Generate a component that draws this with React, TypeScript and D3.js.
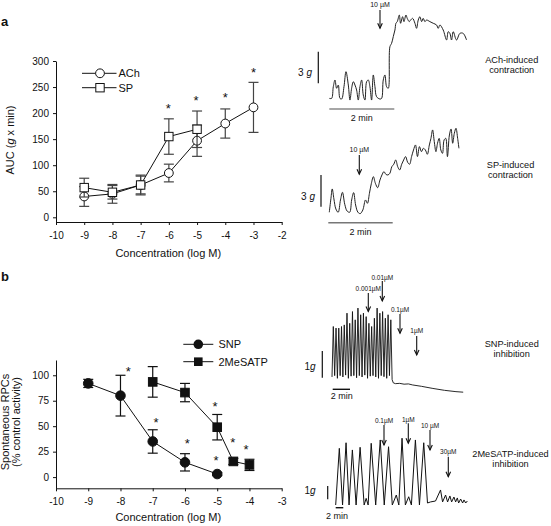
import React, { useEffect, useRef } from "react";
import * as d3 from "d3";

// ---------- Panel a: AUC of contraction ----------
const concTicksA = [-10, -9, -8, -7, -6, -5, -4, -3, -2];
const aucTicks = [0, 50, 100, 150, 200, 250, 300];
const achConc = [-9, -8, -7, -6, -5, -4, -3];
const achMean = [40, 45, 62, 85, 147, 180, 211];
const achSem = [19, 18, 19, 17, 30, 28, 48];
const spConc = [-9, -8, -7, -6, -5];
const spMean = [57, 48, 62, 155, 169];
const spSem = [18, 13, 17, 34, 35];
const starsA: [number, number][] = [[-6.02, 215], [-5.04, 230], [-4.0, 235], [-3.0, 284]];

// ---------- Panel b: spontaneous RPCs ----------
const concTicksB = [-10, -9, -8, -7, -6, -5, -4, -3];
const rpcTicks = [0, 25, 50, 75, 100];
const snpConc = [-9, -8, -7, -6, -5];
const snpMean = [92, 80, 35, 14.5, 3];
const snpSem = [4, 20, 11.5, 8.5, 1.5];
const meConc = [-7, -6, -5, -4.5, -4];
const meMean = [93.5, 83, 49, 15.4, 12];
const meSem = [15, 9, 12.5, 3, 5.5];
const starsB: [number, number][] = [[-7.76, 106.9], [-6.9, 56.1], [-5.93, 36.4], [-5.07, 72.5], [-5.04, 19.1], [-4.52, 37.1], [-4.11, 29.9]];

// ---------- Traces (time, force in g) ----------
// ACh trace: time in s, force in g
const achTrace: [number, number][] = [
  [0, 0.06], [4.3, 0.06], [7.4, 1.17], [10.5, 1.81], [13.5, 1.02], [16.6, 1.33], [19.7, 0.06], [22.8, 0],
  [27.1, 1.17], [30.8, 2.6], [35.1, 1.33], [38.1, -0.1], [41.2, 1.02], [44.3, 1.65], [47.4, 1.33], [50.4, 0.86],
  [53.5, -0.1], [56.6, 1.17], [59.7, 1.81], [62.7, 0.38], [65.8, -0.1], [68.9, 1.65], [72.0, 1.81], [75.0, 1.17],
  [78.1, -0.1], [81.2, 2.29], [84.3, 1.17], [87.3, 0.22], [93.5, 0], [96.6, 0.06], [99.6, 1.81], [102.7, 2.29],
  [105.8, 1.17], [108.9, 1.02], [111.9, 4.98], [115.0, 5.3], [118.1, 5.94], [121.2, 6.57], [123.0, 7.21],
  [125.5, 7.37], [129.2, 8.0], [131.6, 7.21], [135.3, 7.84], [137.8, 7.37], [141.5, 8.0], [143.9, 7.68],
  [147.6, 7.37], [150.1, 7.52], [153.8, 7.68], [158.1, 7.21], [161.1, 6.73], [164.2, 7.52], [167.3, 7.84],
  [170.4, 7.37], [173.4, 7.68], [176.5, 7.37], [179.6, 7.52], [185.7, 7.37], [191.9, 7.21], [198.0, 7.05],
  [201.1, 6.73], [204.2, 7.05], [210.3, 6.57], [216.5, 5.62], [219.6, 6.41], [222.6, 6.25], [225.7, 5.62],
  [228.8, 6.41], [234.9, 5.62], [241.1, 6.25], [247.2, 6.25], [253.4, 5.62],
];
// SP trace: time in s, force in g
const spTrace: [number, number][] = [
  [0, 0.1], [3.1, 1.43], [5.5, 2.32], [8.6, 1.37], [12.3, 0.41], [16.6, 0.1], [20.9, 1.27], [24.6, 2.0],
  [28.9, 0.86], [33.2, 0.22], [38.1, 0.1], [41.8, 1.27], [45.5, 1.97], [49.2, 0.79], [53.5, 0.1], [57.8, -0.03],
  [62.7, 0.32], [67.7, 1.27], [71.3, 0.95], [75.0, 1.9], [78.7, 2.86], [82.4, 3.49], [86.1, 2.86], [90.4, 2.44],
  [94.7, 3.17], [98.4, 3.65], [102.1, 3.97], [105.8, 3.71], [109.5, 3.65], [113.2, 3.81], [116.9, 4.44],
  [120.5, 4.67], [124.2, 5.08], [127.9, 4.44], [131.6, 4.13], [135.3, 4.67], [139.0, 5.08], [142.7, 5.4],
  [146.4, 4.86], [150.1, 4.67], [153.8, 5.4], [157.4, 6.03], [161.1, 6.51], [164.8, 5.4], [168.5, 6.35],
  [172.2, 5.87], [175.9, 6.19], [179.6, 6.03], [183.3, 5.62], [187.0, 6.51], [190.0, 7.14], [193.1, 7.94],
  [196.2, 6.83], [199.3, 5.87], [202.3, 6.67], [205.4, 7.14], [208.5, 6.03], [211.6, 5.71], [214.6, 6.98],
  [217.7, 7.14], [220.8, 5.4], [224.5, 7.46], [227.6, 8.03], [230.6, 6.67], [233.7, 7.62], [236.8, 8.1],
  [239.9, 7.14], [242.3, 6.19],
];
// SNP trace: peak forces (g) of each spontaneous contraction, trough forces, then decay (time s, g)
const snpPeakTimes = [9, 28, 47, 66, 85, 104, 123, 142, 161, 180, 199, 218, 237, 256, 275, 294, 313, 332, 351, 370, 389, 408];
const snpPeaks = [1.94, 1.88, 1.88, 1.94, 2.0, 2.44, 2.06, 2.5, 2.19, 2.63, 2.38, 2.44, 2.31, 2.06, 1.94, 2.25, 2.63, 2.44, 2.5, 2.25, 2.38, 2.19];
const snpTroughs = [0.05, 0.1, 0.0, 0.1, 0.05, 0.12, 0.0, 0.08, 0.1, 0.02, 0.1, 0.05, 0.12, 0.0, 0.08, 0.1, 0.05, 0.0, 0.1, 0.06, 0.0, 0.1];
const snpTail: [number, number][] = [
  [417, -0.05], [425, -0.17], [440, -0.2], [470, -0.19], [500, -0.22], [530, -0.21], [560, -0.25],
  [620, -0.3], [700, -0.38], [780, -0.45], [860, -0.5], [910, -0.52],
];
// 2MeSATP trace: time in min, force in g
const meTrace: [number, number][] = [
  [0, 0], [0.94, 4.26], [1.78, 0], [2.69, 4.68], [3.47, 0], [4.33, 4.14], [5.3, 0], [6.34, 4.34], [7.39, 0],
  [7.91, 0.5], [8.43, 0], [9.22, 4.64], [10.39, 0], [11.57, 4.89], [12.61, 0], [13.73, 4.38], [14.7, 0],
  [15.74, 0.75], [16.4, 0], [17.23, 5.02], [18.09, 0], [18.96, 0.62], [19.66, 0], [20.7, 4.89], [21.75, 0],
  [22.87, 4.68], [23.84, 0.15], [24.62, 0.23], [25.93, 0.3], [27.23, 1.13], [27.76, 0.23], [28.54, 0.75],
  [29.06, 0.23], [29.66, 0.68], [30.11, 0.23], [30.71, 0.6], [31.15, 0.23], [31.59, 0.53], [31.93, 0.15],
  [32.45, 0.45], [32.97, 0.15], [33.32, 0.38], [33.76, 0.15], [34.2, 0.3],
];

const FONT = "'Liberation Sans', Arial, Helvetica, sans-serif";

export default function App() {
  const ref = useRef<SVGSVGElement>(null);

  useEffect(() => {
    const svg = d3.select(ref.current);
    svg.selectAll("*").remove();
    svg.attr("font-family", FONT);

    const txt = (x: number, y: number, s: string, size: number, anchor = "middle", weight = "normal") =>
      svg.append("text").attr("x", x).attr("y", y).attr("font-size", size).attr("text-anchor", anchor)
        .attr("font-weight", weight).attr("fill", "#111").text(s);

    const styleAxis = (g: any) => {
      g.select(".domain").attr("stroke", "#111").attr("stroke-width", 1);
      g.selectAll(".tick line").attr("stroke", "#111");
      g.selectAll(".tick text").attr("font-size", 10).attr("font-family", FONT).attr("fill", "#111");
    };

    const drawPanel = (opts: any) => {
      const { x, y, xTicks, yTicks, yAxisX, xAxisY } = opts;
      const gy = svg.append("g").attr("transform", `translate(${yAxisX},0)`)
        .call(d3.axisLeft(y).tickValues(yTicks).tickSize(3).tickPadding(4).tickSizeOuter(0).tickFormat((d: any) => String(d)));
      styleAxis(gy);
      const gx = svg.append("g").attr("transform", `translate(0,${xAxisY})`)
        .call(d3.axisBottom(x).tickValues(xTicks).tickSize(3).tickPadding(7).tickSizeOuter(0).tickFormat((d: any) => String(d)));
      styleAxis(gx);
    };

    const drawSeries = (x: any, y: any, conc: number[], mean: number[], sem: number[], marker: string, fill: string, errColor: string, size: number) => {
      const g = svg.append("g");
      conc.forEach((c, i) => {
        const cx = x(c);
        const y1 = y(mean[i] + sem[i]);
        const y2 = y(mean[i] - sem[i]);
        g.append("line").attr("x1", cx).attr("x2", cx).attr("y1", y1).attr("y2", y2).attr("stroke", errColor).attr("stroke-width", 1.2);
        [y1, y2].forEach((yy) =>
          g.append("line").attr("x1", cx - 5).attr("x2", cx + 5).attr("y1", yy).attr("y2", yy).attr("stroke", errColor).attr("stroke-width", 1.2));
      });
      const line = d3.line<number>().x((_, i) => x(conc[i])).y((d) => y(d));
      g.append("path").attr("d", line(mean)).attr("fill", "none").attr("stroke", "#111").attr("stroke-width", 1);
      conc.forEach((c, i) => {
        if (marker === "circle") {
          g.append("circle").attr("cx", x(c)).attr("cy", y(mean[i])).attr("r", size).attr("fill", fill).attr("stroke", "#111").attr("stroke-width", 1);
        } else {
          g.append("rect").attr("x", x(c) - size).attr("y", y(mean[i]) - size).attr("width", size * 2).attr("height", size * 2)
            .attr("fill", fill).attr("stroke", "#111").attr("stroke-width", 1);
        }
      });
    };

    const stars = (x: any, y: any, pts: [number, number][]) => {
      pts.forEach(([c, v]) => txt(x(c), y(v) + 7.5, "*", 13));
    };

    // ================= Panel a =================
    const xA = d3.scaleLinear().domain([-10, -2]).range([56, 281.7]);
    const yA = d3.scaleLinear().domain([-9, 300]).range([222, 61]);
    drawPanel({ x: xA, y: yA, xTicks: concTicksA, yTicks: aucTicks, yAxisX: 56, xAxisY: 222 });
    drawSeries(xA, yA, achConc, achMean, achSem, "circle", "#fff", "#444", 4.4);
    drawSeries(xA, yA, spConc, spMean, spSem, "square", "#fff", "#444", 4.2);
    stars(xA, yA, starsA);
    txt(168.3, 257, "Concentration (log M)", 11);
    {
      const t = svg.append("text").attr("transform", "translate(14,140) rotate(-90)").attr("text-anchor", "middle")
        .attr("font-size", 11).attr("fill", "#111");
      t.append("tspan").text("AUC (");
      t.append("tspan").attr("font-style", "italic").text("g");
      t.append("tspan").text(" x min)");
    }
    // legend a
    svg.append("line").attr("x1", 82).attr("x2", 116.5).attr("y1", 73.3).attr("y2", 73.3).attr("stroke", "#111");
    svg.append("circle").attr("cx", 100).attr("cy", 73.3).attr("r", 4.4).attr("fill", "#fff").attr("stroke", "#111");
    svg.append("line").attr("x1", 82).attr("x2", 116.5).attr("y1", 87.7).attr("y2", 87.7).attr("stroke", "#111");
    svg.append("rect").attr("x", 95.8).attr("y", 83.5).attr("width", 8.4).attr("height", 8.4).attr("fill", "#fff").attr("stroke", "#111");
    txt(118.5, 77, "ACh", 11, "start");
    txt(118.5, 91.5, "SP", 11, "start");

    // ================= Panel b =================
    const xB = d3.scaleLinear().domain([-10, -3]).range([56, 281.7]);
    const yB = d3.scaleLinear().domain([-11, 115]).range([488.3, 360]);
    drawPanel({ x: xB, y: yB, xTicks: concTicksB, yTicks: rpcTicks, yAxisX: 56, xAxisY: 488.3 });
    drawSeries(xB, yB, snpConc, snpMean, snpSem, "circle", "#111", "#111", 4.8);
    drawSeries(xB, yB, meConc, meMean, meSem, "square", "#111", "#111", 4.3);
    stars(xB, yB, starsB);
    txt(168.3, 521, "Concentration (log M)", 11);
    svg.append("text").attr("transform", "translate(5.5,422) rotate(-90)").attr("text-anchor", "middle")
      .attr("dy", "0.35em").attr("font-size", 11).attr("fill", "#111").text("Spontaneous RPCs");
    svg.append("text").attr("transform", "translate(16,422) rotate(-90)").attr("text-anchor", "middle")
      .attr("dy", "0.35em").attr("font-size", 11).attr("fill", "#111").text("(% control activity)");
    // legend b
    svg.append("line").attr("x1", 183.3).attr("x2", 213.3).attr("y1", 344.3).attr("y2", 344.3).attr("stroke", "#111");
    svg.append("circle").attr("cx", 198.3).attr("cy", 344.3).attr("r", 4.8).attr("fill", "#111");
    svg.append("line").attr("x1", 183.3).attr("x2", 213.3).attr("y1", 361.7).attr("y2", 361.7).attr("stroke", "#111");
    svg.append("rect").attr("x", 194).attr("y", 357.4).attr("width", 8.6).attr("height", 8.6).attr("fill", "#111");
    txt(218.5, 348, "SNP", 11, "start");
    txt(218.5, 365.5, "2MeSATP", 11, "start");

    // panel letters
    txt(1, 26, "a", 13, "start", "bold");
    txt(1, 281, "b", 13, "start", "bold");

    // ================= Traces =================
    const arrow = (x: number, y1: number, y2: number, label: string, ly: number, lsize = 6.5) => {
      svg.append("line").attr("x1", x).attr("x2", x).attr("y1", y1).attr("y2", y2).attr("stroke", "#111").attr("stroke-width", 1.1);
      svg.append("path").attr("d", `M${x - 2.3},${y2 - 5}L${x},${y2}L${x + 2.3},${y2 - 5}`).attr("fill", "none")
        .attr("stroke", "#111").attr("stroke-width", 1.1);
      txt(x, ly, label, lsize);
    };
    const gLabel = (x: number, y: number, num: string) => {
      const t = svg.append("text").attr("x", x).attr("y", y).attr("font-size", 10).attr("text-anchor", "middle").attr("fill", "#111");
      t.append("tspan").text(num);
      t.append("tspan").attr("font-style", "italic").text("g");
    };
    const vbar = (x: number, y1: number, y2: number) =>
      svg.append("line").attr("x1", x).attr("x2", x).attr("y1", y1).attr("y2", y2).attr("stroke", "#111").attr("stroke-width", 1.2);
    const hbar = (x1: number, x2: number, y: number, color: string) =>
      svg.append("line").attr("x1", x1).attr("x2", x2).attr("y1", y).attr("y2", y).attr("stroke", color).attr("stroke-width", 1.4);

    // ACh
    {
      const xt = d3.scaleLinear().domain([0, 120]).range([329.3, 394.3]);
      const yt = d3.scaleLinear().domain([0, 3]).range([99, 67.5]);
      const ln = d3.line<[number, number]>().x((d) => xt(d[0])).y((d) => yt(d[1])).curve(d3.curveCatmullRom.alpha(0.5));
      svg.append("path").attr("d", ln(achTrace)).attr("fill", "none").attr("stroke", "#222").attr("stroke-width", 1);
      vbar(318.3, yt(4.5), yt(1.5));
      gLabel(305, 75.5, "3 ");
      hbar(xt(0), xt(120), 109, "#888");
      txt(xt(60), 121, "2 min", 9);
      arrow(380, 10, 28.3, "10 µM", 6.5, 7);
      txt(511.7, 63.3, "ACh-induced", 9.2);
      txt(511.7, 73.3, "contraction", 9.2);
    }
    // SP
    {
      const xt = d3.scaleLinear().domain([0, 120]).range([329.3, 393.5]);
      const yt = d3.scaleLinear().domain([0, 3]).range([213.3, 181.8]);
      const ln = d3.line<[number, number]>().x((d) => xt(d[0])).y((d) => yt(d[1])).curve(d3.curveCatmullRom.alpha(0.5));
      svg.append("path").attr("d", ln(spTrace)).attr("fill", "none").attr("stroke", "#222").attr("stroke-width", 1);
      vbar(321, 175, 206.7);
      gLabel(308, 199.5, "3 ");
      hbar(328.3, 392.7, 222.7, "#777");
      txt(360.5, 235, "2 min", 9);
      arrow(359.3, 155, 174.3, "10 µM", 151.5, 7);
      txt(510.5, 168.3, "SP-induced", 9.2);
      txt(510.5, 178.3, "contraction", 9.2);
    }
    // SNP
    {
      const xt = d3.scaleLinear().domain([0, 120]).range([332, 349.3]);
      const yt = d3.scaleLinear().domain([0, 1]).range([378.3, 351.6]);
      const pts: [number, number][] = [[0, snpTroughs[0]]];
      snpPeakTimes.forEach((t, i) => {
        pts.push([t, snpPeaks[i]]);
        if (i < snpPeakTimes.length - 1) pts.push([t + 9.5, snpTroughs[i + 1]]);
      });
      snpTail.forEach((p) => pts.push(p));
      const ln = d3.line<[number, number]>().x((d) => xt(d[0])).y((d) => yt(d[1]));
      svg.append("path").attr("d", ln(pts)).attr("fill", "none").attr("stroke", "#111").attr("stroke-width", 0.9);
      vbar(322.3, 351, 377.7);
      gLabel(310, 370, "1");
      hbar(332.7, 350, 389.3, "#111");
      txt(341.7, 399, "2 min", 9);
      arrow(382.3, 281, 301, "0.01µM", 279.5);
      arrow(368.3, 293, 311.5, "0.001µM", 290.5);
      arrow(400, 314, 333.3, "0.1µM", 311.5);
      arrow(416.7, 336, 355, "1µM", 333);
      txt(511.7, 346.6, "SNP-induced", 9.2);
      txt(511.7, 356.6, "inhibition", 9.2);
    }
    // 2MeSATP
    {
      const xt = d3.scaleLinear().domain([0, 2]).range([335.7, 343.4]);
      const yt = d3.scaleLinear().domain([0, 1]).range([505, 491.7]);
      const ln = d3.line<[number, number]>().x((d) => xt(d[0])).y((d) => yt(d[1]));
      svg.append("path").attr("d", ln(meTrace)).attr("fill", "none").attr("stroke", "#111").attr("stroke-width", 1);
      vbar(327.7, 486, 499.3);
      gLabel(310, 494, "1");
      hbar(335.7, 343.3, 507.7, "#111");
      txt(337, 519, "2 min", 9);
      arrow(384, 425, 445, "0.1µM", 423);
      arrow(408.3, 423.3, 443.3, "1µM", 421.5);
      arrow(430, 430, 450, "10 µM", 428);
      arrow(448.3, 456.7, 476.7, "30µM", 454);
      txt(510.5, 457.3, "2MeSATP-induced", 9.2);
      txt(510.5, 467.3, "inhibition", 9.2);
    }
  }, []);

  return (
    <div style={{ position: "absolute", left: 0, top: 0 }}>
      <svg ref={ref} width={551} height={526} style={{ display: "block", background: "#fff" }} />
    </div>
  );
}
